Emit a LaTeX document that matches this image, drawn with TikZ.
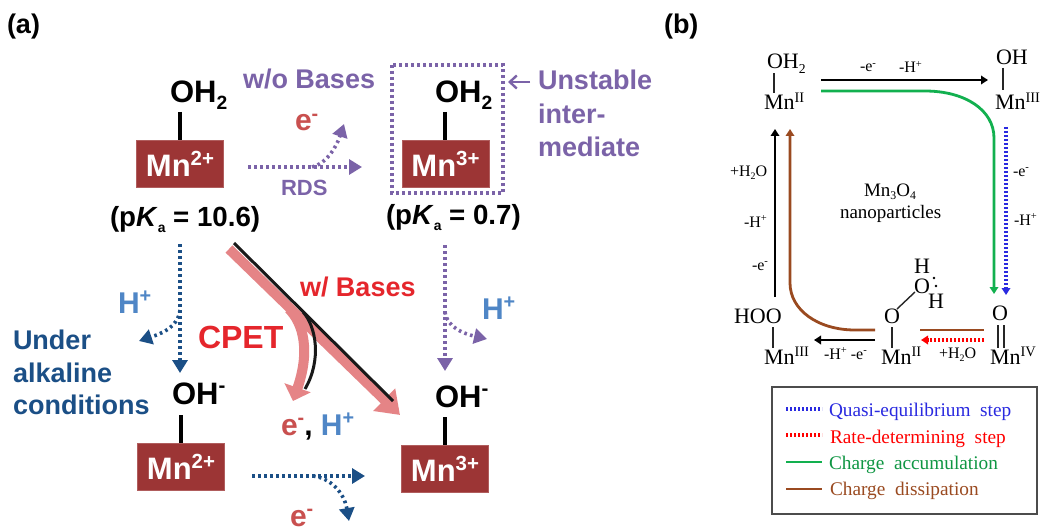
\documentclass[tikz,border=0pt]{standalone}
\usepackage{fontspec}
\setmainfont{Liberation Sans}
\newfontfamily\serifb{Liberation Serif}
\usetikzlibrary{arrows.meta}
\definecolor{cpurple}{HTML}{7B63A8}
\definecolor{cmaroon}{HTML}{9C3535}
\definecolor{cred}{HTML}{E5262C}
\definecolor{cpink}{HTML}{E58486}
\definecolor{cblue}{HTML}{4F86C6}
\definecolor{cnavy}{HTML}{1B4F86}
\definecolor{celec}{HTML}{C9504F}
\definecolor{cgreen}{HTML}{12B04F}
\definecolor{cbrown}{HTML}{9A4A20}
\definecolor{cdblue}{HTML}{2A2AE0}
\newcommand\up[1]{\raisebox{.36em}{\scalebox{.66}{#1}}}
\newcommand\dn[1]{\raisebox{-.2em}{\scalebox{.62}{#1}}}
\newcommand\dnk[1]{\raisebox{-.22em}{\scalebox{.5}{#1}}}
\newcommand\fs[1]{\fontsize{#1}{#1}\selectfont}
\tikzset{
  txt/.style={inner sep=0pt,outer sep=0pt,align=left},
  bfa/.style={txt,font=\bfseries\fs{#1}},
  ser/.style={txt,font=\serifb\fs{#1}},
  mnbox/.style={fill=cmaroon,draw=cmaroon!80!white,line width=.5pt,minimum width=87,minimum height=47,inner sep=0pt,text=white,font=\bfseries\fs{31}},
  bond/.style={line width=3.2pt,black},
  thinbond/.style={line width=1.4pt,black!85},
  dots/.style={line width=3.6pt,dash pattern=on 2.6pt off 3.4pt},
  dotsb/.style={line width=3.2pt,dash pattern=on 2pt off 2pt},
  head/.style={-{Triangle[width=15pt,length=13pt]}},
  bhead/.style={-{Triangle[width=8.5pt,length=7pt]}},
  ln/.style={line width=2.8pt},
}
\begin{document}
\begin{tikzpicture}[x=1pt,y=-1pt]
\useasboundingbox (0,0) rectangle (1049,532);
\fill[white] (0,0) rectangle (1049,532);
% ---- panel labels
\node[bfa=27,anchor=base west] (pa) at (7,34) {(a)};
\node[bfa=27,anchor=base west] (pb) at (664,34) {(b)};
% ---- panel a species
\node[mnbox] (m2a) at (180,163.5) {Mn\up{2+}};
\node[mnbox] (m3a) at (445.5,164) {Mn\up{3+}};
\node[mnbox] (m2b) at (181,467) {Mn\up{2+}};
\node[mnbox] (m3b) at (445,468.5) {Mn\up{3+}};
\node[bfa=31,anchor=base west] (oh2a) at (170,103) {OH\dn{2}};
\node[bfa=31,anchor=base west] (oh2b) at (435,103) {OH\dn{2}};
\node[bfa=31,anchor=base west] (oha) at (172,404) {OH\up{-}};
\node[bfa=31,anchor=base west] (ohb) at (435,407) {OH\up{-}};
\coordinate (ba1) at (180,112); \coordinate (bb1) at (445,112);
\coordinate (bc1) at (181,415); \coordinate (bd1) at (445,417);
\draw[bond] (ba1) -- (m2a.north -| ba1);
\draw[bond] (bb1) -- (m3a.north -| bb1);
\draw[bond] (bc1) -- (m2b.north -| bc1);
\draw[bond] (bd1) -- (m3b.north -| bd1);
\node[bfa=27.7,anchor=base west] (pk1) at (110,226) {(p\textit{K}\dnk{a} = 10.6)};
\node[bfa=27.7,anchor=base west] (pk2) at (386,224) {(p\textit{K}\dnk{a} = 0.7)};
% ---- unstable box
\draw[cpurple,dots] (392,65) rectangle (503,193);
\node[bfa=27,text=cpurple,anchor=base west] (wo) at (243,89) {w/o Bases};
\node[bfa=27,text=cpurple,anchor=base west,align=left] (un1) at (538,90) {Unstable};
\node[bfa=27,text=cpurple,anchor=base west] (un2) at (538,124) {inter-};
\node[bfa=27,text=cpurple,anchor=base west] (un3) at (538,157) {mediate};
\coordinate (ua) at (530,82); \coordinate (ub) at (508,82);
\draw[cpurple,line width=2.4pt,-{Straight Barb[length=7pt,width=13pt]}] (ua) -- (ub);
\node[bfa=30,text=celec,anchor=base west] (e1) at (295,131) {e\up{-}};
\node[bfa=22,text=cpurple,anchor=base west] (rds) at (281,195) {RDS};
\coordinate (r1) at (248,167); \coordinate (r2) at (362,167);
\coordinate (r3) at (312,167); \coordinate (r4) at (344,124);
\draw[cpurple,dots,head] (r1) -- (r2);
\draw[cpurple,dots,head] (r3) .. controls (326,164) and (336,148) .. (r4);
% ---- navy
\coordinate (n1) at (180,244); \coordinate (n2) at (180,373);
\coordinate (n3) at (180,310); \coordinate (n4) at (139,341);
\draw[cnavy,dots,head] (n1) -- (n2);
\draw[cnavy,dots,head] (n3) .. controls (178,328) and (160,334) .. (n4);
\node[bfa=30,text=cblue,anchor=base west] (h1) at (118,313) {H\up{+}};
\node[bfa=27,text=cnavy,anchor=base west] (ua1) at (13,349) {Under};
\node[bfa=27,text=cnavy,anchor=base west] (ua2) at (13,382) {alkaline};
\node[bfa=27,text=cnavy,anchor=base west] (ua3) at (13,414) {conditions};
\coordinate (n5) at (252,476); \coordinate (n6) at (365,476);
\coordinate (n7) at (313,476); \coordinate (n8) at (349,521);
\draw[cnavy,dots,head] (n5) -- (n6);
\draw[cnavy,dots,head] (n7) .. controls (330,478) and (344,492) .. (n8);
\node[bfa=30,text=celec,anchor=base west] (e2) at (290,526) {e\up{-}};
% ---- purple down
\coordinate (p1) at (445,245); \coordinate (p2) at (445,371);
\coordinate (p3) at (445,312); \coordinate (p4) at (487,339);
\draw[cpurple,dots,head] (p1) -- (p2);
\draw[cpurple,dots,head] (p3) .. controls (447,328) and (465,334) .. (p4);
\node[bfa=30,text=cblue,anchor=base west] (h2) at (482,319) {H\up{+}};
% ---- CPET
\coordinate (c1) at (229,249); \coordinate (c2) at (400,415);
\coordinate (c3) at (289,309); \coordinate (c4) at (293,401);
\coordinate (k1) at (234,243); \coordinate (k2) at (393,401);
\coordinate (k3) at (303,312); \coordinate (k4) at (305,389);
\draw[cpink,line width=10pt,-{Triangle[width=30pt,length=22pt]}] (c1) -- (c2);
\draw[cpink,line width=10pt,-{Triangle[width=27pt,length=14pt]}] (c3) .. controls (304,324) and (310,352) .. (c4);
\draw[black!90,line width=3pt] (k1) -- (k2);
\draw[black!90,line width=3pt] (k3) .. controls (316,326) and (322,360) .. (k4);
\node[bfa=32,text=cred,anchor=base west] (cp) at (198,348) {CPET};
\node[bfa=27,text=cred,anchor=base west] (wb) at (300,296) {w/ Bases};
\node[bfa=30,anchor=base west] (eh) at (281,435) {\textcolor{celec}{e\up{-}}, \textcolor{cblue}{H\up{+}}};
% ---- panel b species
\node[ser=22,anchor=base west] (boh2) at (767,69) {OH\dn{2}};
\node[ser=22,anchor=base west] (bm1) at (764,110) {Mn\up{II}};
\draw[thinbond] (boh2.south -| 774,0) -- (bm1.north -| 774,0);
\node[ser=22,anchor=base west] (boh) at (996,65) {OH};
\node[ser=22,anchor=base west] (bm2) at (995,110) {Mn\up{III}};
\draw[thinbond] (1003,68) -- (1003,90);
\node[ser=22,anchor=base west] (bhoo) at (734,323) {HOO};
\node[ser=22,anchor=base west] (bm3) at (764,364) {Mn\up{III}};
\draw[thinbond] (773,327) -- (773,348);
\node[ser=22,anchor=base west] (bo1) at (884,323) {O};
\node[ser=22,anchor=base west] (bm4) at (881,364) {Mn\up{II}};
\draw[thinbond] (892,327) -- (892,348);
\node[ser=22,anchor=base west] (bo2) at (914,293) {O};
\node[ser=22,anchor=base west] (bh1) at (914,273) {H};
\node[ser=22,anchor=base west] (bh2) at (928,308) {H};
\draw[thinbond] (897,309) -- (915,292);
\fill (934,278) circle (1.3pt) (936,286) circle (1.3pt);
\node[ser=22,anchor=base west] (bo3) at (992,320) {O};
\node[ser=22,anchor=base west] (bm5) at (990,364) {Mn\up{IV}};
\draw[thinbond] (998,325) -- (998,348) (1004,325) -- (1004,348);
% ---- panel b arrows
\coordinate (a1) at (821,80); \coordinate (a2) at (988,80);
\draw[ln,bhead] (a1) -- (a2);
\coordinate (g1) at (821,91); \coordinate (g2) at (994,294);
\draw[cgreen,ln,bhead] (g1) -- (925,91) .. controls (965,91) and (994,110) .. (994,138) -- (g2);
\coordinate (d1) at (1006,127); \coordinate (d2) at (1006,295);
\draw[cdblue,dotsb,bhead] (d1) -- (d2);
\coordinate (a3) at (775,297); \coordinate (a4) at (775,129);
\draw[line width=2.8pt,bhead] (a3) -- (a4);
\coordinate (br1) at (875,330); \coordinate (br2) at (790,129);
\draw[cbrown,ln,bhead] (br1) -- (855,330) .. controls (818,330) and (790,310) .. (790,283) -- (br2);
\coordinate (a5) at (875,340); \coordinate (a6) at (814,340);
\draw[ln,bhead] (a5) -- (a6);
\coordinate (br3) at (920,330); \coordinate (br4) at (984,330);
\draw[cbrown,ln] (br3) -- (br4);
\coordinate (rd1) at (984,340); \coordinate (rd2) at (921,340);
\draw[red,dotsb,bhead] (rd1) -- (rd2);
% ---- panel b labels
\node[ser=16,anchor=base west] (l1) at (860,72) {-e\up{-}};
\node[ser=16,anchor=base west] (l2) at (899,73) {-H\up{+}};
\node[ser=16,anchor=base west] (l3) at (1013,176) {-e\up{-}};
\node[ser=16,anchor=base west] (l4) at (1014,225) {-H\up{+}};
\node[ser=16,anchor=base west] (l5) at (730,176) {+H\dn{2}O};
\node[ser=16,anchor=base west] (l6) at (744,227) {-H\up{+}};
\node[ser=16,anchor=base west] (l7) at (752,270) {-e\up{-}};
\node[ser=16,anchor=base west] (l8) at (824,359) {-H\up{+} -e\up{-}};
\node[ser=16,anchor=base west] (l9) at (939,358) {+H\dn{2}O};
\node[ser=19,anchor=base west] (mo1) at (864,196) {Mn\dn{3}O\dn{4}};
\node[ser=19,anchor=base west] (mo2) at (840,218) {nanoparticles};
% ---- legend
\node[draw=black!70,line width=1.6pt,minimum width=265,minimum height=127,inner sep=0pt,anchor=north west] (leg) at (771,386) {};
\coordinate (q1) at (786,409); \coordinate (q2) at (822,409);
\coordinate (q3) at (786,435); \coordinate (q4) at (822,435);
\coordinate (q5) at (786,462); \coordinate (q6) at (822,462);
\coordinate (q7) at (786,489); \coordinate (q8) at (822,489);
\draw[cdblue,dotsb] (q1) -- (q2);
\draw[red,dotsb] (q3) -- (q4);
\draw[cgreen,ln] (q5) -- (q6);
\draw[cbrown,ln] (q7) -- (q8);
\node[ser=19.3,text=cdblue,anchor=base west] (t1) at (829,416) {Quasi-equilibrium\ \ step};
\node[ser=19.3,text=red,anchor=base west] (t2) at (830,443) {Rate-determining\ \ step};
\node[ser=19.3,text=cgreen!85!black,anchor=base west] (t3) at (829,469) {Charge\ \ accumulation};
\node[ser=19.3,text=cbrown,anchor=base west] (t4) at (830,495) {Charge\ \ dissipation};
\end{tikzpicture}
\end{document}
